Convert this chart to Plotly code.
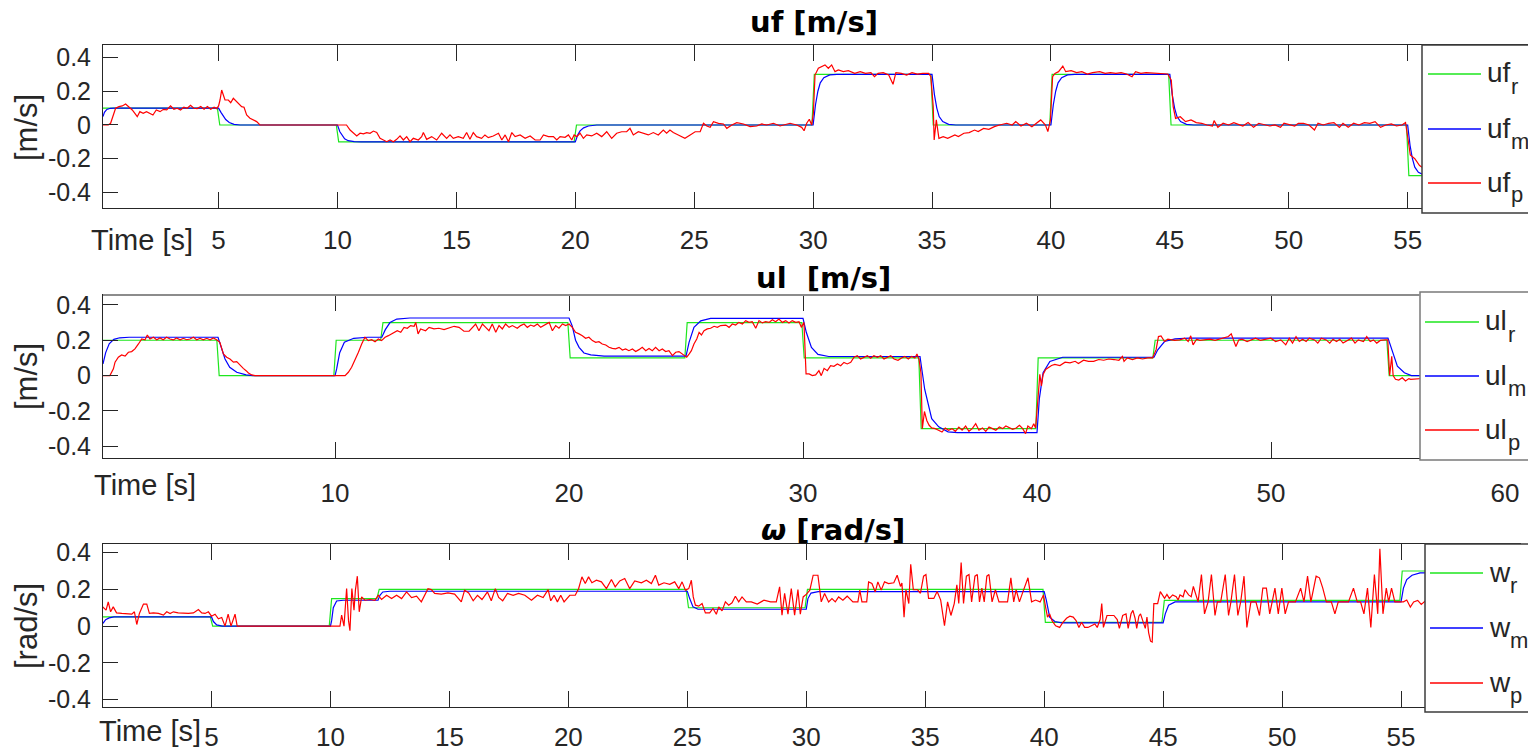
import plotly.graph_objects as go

# ---------------- uf panel (forward velocity) ----------------
uf_ref = [(0.14, 0.1), (4.95, 0.1), (5.05, 0.0), (9.95, 0.0), (10.05, -0.1), (19.95, -0.1),
          (20.05, 0.0), (29.95, 0.0), (30.05, 0.3), (34.95, 0.3), (35.05, 0.0), (39.95, 0.0),
          (40.05, 0.3), (44.95, 0.3), (45.05, 0.0), (54.95, 0.0), (55.05, -0.3), (60.0, -0.3)]

uf_mod = [(0.14, 0.05), (0.2, 0.075), (0.3, 0.092), (0.45, 0.099), (0.6, 0.1),
          (5.0, 0.1), (5.1, 0.075), (5.2, 0.05), (5.3, 0.032), (5.45, 0.015), (5.65, 0.004), (5.9, 0.0),
          (10.0, 0.0), (10.1, -0.04), (10.2, -0.065), (10.3, -0.082), (10.45, -0.093), (10.7, -0.099), (11.0, -0.1),
          (20.0, -0.1), (20.1, -0.06), (20.2, -0.035), (20.35, -0.017), (20.55, -0.006), (20.9, 0.0),
          (30.0, 0.0), (30.1, 0.12), (30.2, 0.2), (30.3, 0.25), (30.45, 0.28), (30.7, 0.297), (31.0, 0.3),
          (35.0, 0.3), (35.1, 0.18), (35.2, 0.1), (35.3, 0.05), (35.45, 0.02), (35.7, 0.004), (36.0, 0.0),
          (40.0, 0.0), (40.1, 0.12), (40.2, 0.2), (40.3, 0.25), (40.45, 0.28), (40.7, 0.297), (41.0, 0.3),
          (45.0, 0.3), (45.1, 0.18), (45.2, 0.1), (45.3, 0.05), (45.45, 0.02), (45.7, 0.004), (46.0, 0.0),
          (55.0, 0.0), (55.1, -0.12), (55.2, -0.2), (55.3, -0.25), (55.45, -0.28), (55.7, -0.297), (56.0, -0.3),
          (60.0, -0.3)]

uf_pos = [(0.12, 0.0), (0.36, 0.0), (0.46, 0.01), (0.57, 0.059), (0.67, 0.099), (0.81, 0.109), (0.95, 0.113),
          (1.09, 0.124), (1.23, 0.109), (1.37, 0.089), (1.48, 0.069), (1.58, 0.049), (1.69, 0.079), (1.83, 0.069),
          (1.97, 0.079), (2.1, 0.069), (2.24, 0.059), (2.38, 0.089), (2.54, 0.079), (2.68, 0.093), (2.82, 0.089),
          (2.98, 0.113), (3.12, 0.093), (3.26, 0.099), (3.4, 0.089), (3.54, 0.105), (3.68, 0.099), (3.82, 0.117),
          (3.96, 0.099), (4.1, 0.097), (4.25, 0.109), (4.39, 0.093), (4.53, 0.109), (4.67, 0.093), (4.81, 0.105),
          (4.92, 0.097), (5.0, 0.113), (5.06, 0.148), (5.13, 0.207), (5.2, 0.178), (5.27, 0.148), (5.41, 0.148),
          (5.51, 0.132), (5.62, 0.158), (5.76, 0.138), (5.87, 0.124), (5.97, 0.109), (6.07, 0.105), (6.18, 0.059),
          (6.32, 0.04), (6.46, 0.03), (6.6, 0.02), (6.74, 0.0), (10.38, 0.0), (10.53, -0.03), (10.67, -0.049),
          (10.81, -0.065), (10.95, -0.049), (11.09, -0.053), (11.23, -0.045), (11.37, -0.049), (11.51, -0.036),
          (11.65, -0.045), (11.79, -0.079), (11.93, -0.089), (12.07, -0.099), (12.21, -0.089), (12.35, -0.099),
          (12.49, -0.085), (12.63, -0.065), (12.77, -0.089), (12.91, -0.069), (13.05, -0.099), (13.19, -0.079),
          (13.4, -0.089), (13.54, -0.069), (13.61, -0.045), (13.75, -0.085), (13.96, -0.069), (14.17, -0.089),
          (14.38, -0.049), (14.59, -0.079), (14.73, -0.059), (14.87, -0.079), (15.08, -0.069), (15.29, -0.079),
          (15.43, -0.045), (15.57, -0.085), (15.71, -0.045), (15.85, -0.069), (16.06, -0.079), (16.2, -0.059),
          (16.34, -0.075), (16.55, -0.065), (16.77, -0.049), (16.91, -0.089), (17.05, -0.059), (17.19, -0.099),
          (17.33, -0.045), (17.47, -0.069), (17.68, -0.059), (17.89, -0.079), (18.1, -0.065), (18.31, -0.089),
          (18.52, -0.089), (18.66, -0.059), (18.87, -0.069), (19.08, -0.069), (19.22, -0.089), (19.36, -0.069),
          (19.57, -0.073), (19.71, -0.059), (19.85, -0.089), (19.95, -0.059), (20.06, -0.069), (20.2, -0.049),
          (20.34, -0.079), (20.48, -0.059), (20.69, -0.065), (20.9, -0.049), (21.11, -0.069), (21.32, -0.04),
          (21.53, -0.079), (21.74, -0.049), (21.95, -0.04), (22.16, -0.04), (22.3, -0.02), (22.44, -0.059),
          (22.65, -0.04), (22.86, -0.049), (23.07, -0.059), (23.28, -0.045), (23.49, -0.059), (23.7, -0.03),
          (23.84, -0.049), (23.98, -0.03), (24.12, -0.045), (24.33, -0.059), (24.61, -0.079), (24.83, -0.059),
          (25.04, -0.04), (25.25, -0.04), (25.39, 0.01), (25.53, -0.006), (25.67, -0.014), (25.81, 0.02),
          (26.02, 0.01), (26.23, 0.006), (26.37, -0.02), (26.58, 0.0), (26.79, 0.014), (27.07, 0.006),
          (27.35, -0.01), (27.63, -0.006), (27.84, 0.006), (28.05, 0.0), (28.33, 0.01), (28.61, -0.006),
          (28.82, 0.0), (29.03, 0.01), (29.31, 0.0), (29.52, -0.014), (29.62, -0.034), (29.73, 0.01),
          (29.84, 0.034), (29.94, 0.0), (30.01, 0.069), (30.08, 0.296), (30.22, 0.336), (30.36, 0.346),
          (30.5, 0.356), (30.64, 0.336), (30.78, 0.356), (30.92, 0.316), (31.06, 0.326), (31.27, 0.316),
          (31.48, 0.322), (31.75, 0.306), (31.98, 0.316), (32.2, 0.306), (32.43, 0.31), (32.58, 0.286),
          (32.73, 0.306), (32.95, 0.31), (33.18, 0.296), (33.36, 0.241), (33.48, 0.31), (33.71, 0.306),
          (33.93, 0.296), (34.16, 0.31), (34.38, 0.302), (34.61, 0.306), (34.86, 0.306), (34.95, 0.286),
          (35.05, 0.109), (35.09, -0.089), (35.18, 0.03), (35.29, -0.079), (35.47, -0.069), (35.66, -0.079),
          (35.81, -0.069), (35.96, -0.059), (36.11, -0.069), (36.34, -0.049), (36.56, -0.045), (36.79, -0.03),
          (36.94, -0.039), (37.17, -0.02), (37.39, -0.026), (37.62, -0.01), (37.84, 0.0), (38.14, 0.01),
          (38.37, 0.0), (38.52, 0.02), (38.74, -0.006), (38.97, 0.01), (39.2, -0.01), (39.42, 0.014),
          (39.57, 0.03), (39.77, 0.0), (39.87, -0.039), (39.98, 0.03), (40.07, 0.286), (40.17, 0.306),
          (40.32, 0.316), (40.5, 0.349), (40.62, 0.316), (40.85, 0.322), (41.08, 0.31), (41.3, 0.316),
          (41.53, 0.302), (41.75, 0.31), (42.05, 0.316), (42.28, 0.306), (42.5, 0.31), (42.73, 0.306),
          (42.95, 0.31), (43.18, 0.302), (43.41, 0.286), (43.56, 0.316), (43.78, 0.306), (44.0, 0.31),
          (44.31, 0.306), (44.61, 0.306), (44.91, 0.302), (45.06, 0.266), (45.14, 0.109), (45.24, 0.039),
          (45.44, 0.049), (45.66, 0.02), (45.89, 0.03), (46.11, 0.014), (46.34, 0.01), (46.56, 0.0),
          (46.79, -0.006), (46.86, 0.026), (47.02, -0.014), (47.24, 0.01), (47.47, 0.0), (47.69, 0.014),
          (47.92, 0.0), (48.07, -0.006), (48.29, 0.014), (48.52, -0.014), (48.74, 0.01), (48.97, 0.0),
          (49.2, -0.006), (49.42, 0.0), (49.65, -0.014), (49.8, 0.01), (50.02, 0.0), (50.25, -0.006),
          (50.4, 0.01), (50.62, 0.01), (50.85, 0.0), (51.08, -0.03), (51.23, 0.01), (51.45, 0.0),
          (51.68, 0.01), (51.9, 0.014), (52.13, -0.014), (52.28, 0.01), (52.5, -0.014), (52.73, 0.01),
          (52.95, 0.0), (53.18, 0.014), (53.41, 0.01), (53.63, 0.02), (53.86, -0.014), (54.08, 0.0),
          (54.31, 0.006), (54.53, -0.006), (54.76, 0.0), (54.91, 0.014), (55.02, -0.089), (55.11, -0.178),
          (55.3, -0.2), (55.5, -0.24), (55.7, -0.26), (56.0, -0.28), (56.4, -0.29)]

# ---------------- ul panel (lateral velocity) ----------------
ul_ref = [(0.085, 0.2), (4.95, 0.2), (5.05, 0.0), (9.95, 0.0), (10.05, 0.2), (11.95, 0.2), (12.05, 0.3),
          (19.95, 0.3), (20.05, 0.1), (24.95, 0.1), (25.05, 0.3), (29.95, 0.3), (30.05, 0.1), (34.95, 0.1),
          (35.05, -0.3), (39.95, -0.3), (40.05, 0.1), (44.95, 0.1), (45.05, 0.2), (54.95, 0.2), (55.05, 0.0),
          (60.0, 0.0)]

ul_mod = [(0.085, 0.066), (0.2, 0.13), (0.35, 0.18), (0.55, 0.205), (0.8, 0.214), (1.2, 0.217),
          (5.0, 0.217), (5.15, 0.16), (5.3, 0.094), (5.5, 0.047), (5.8, 0.019), (6.2, 0.004), (6.5, 0.0),
          (10.0, 0.0), (10.07, 0.038), (10.2, 0.13), (10.4, 0.189), (10.8, 0.211), (11.4, 0.217),
          (12.0, 0.217), (12.15, 0.26), (12.35, 0.3), (12.64, 0.32), (13.2, 0.326),
          (20.0, 0.326), (20.14, 0.28), (20.28, 0.2), (20.43, 0.16), (20.64, 0.128), (20.93, 0.117), (21.5, 0.11),
          (25.0, 0.11), (25.13, 0.188), (25.34, 0.273), (25.63, 0.31), (26.05, 0.324),
          (30.0, 0.324), (30.14, 0.245), (30.36, 0.16), (30.64, 0.12), (31.1, 0.108),
          (35.0, 0.108), (35.2, -0.077), (35.5, -0.244), (35.8, -0.29), (36.2, -0.318), (36.6, -0.323),
          (40.0, -0.323), (40.1, -0.13), (40.26, 0.016), (40.55, 0.08), (41.1, 0.104),
          (45.0, 0.104), (45.16, 0.146), (45.45, 0.193), (45.9, 0.208), (46.5, 0.212),
          (55.0, 0.212), (55.17, 0.146), (55.4, 0.053), (55.7, 0.016), (56.0, 0.0), (60.0, 0.0)]

ul_pos = [(0.07, 0.0), (0.38, 0.0), (0.53, 0.038), (0.6, 0.076), (0.74, 0.104), (0.88, 0.117), (1.03, 0.11),
          (1.17, 0.132), (1.31, 0.136), (1.45, 0.151), (1.6, 0.179), (1.74, 0.207), (1.88, 0.203), (1.98, 0.23),
          (2.09, 0.207), (2.24, 0.217), (2.38, 0.203), (2.52, 0.213), (2.66, 0.203), (2.8, 0.217), (2.95, 0.207),
          (3.09, 0.202), (3.23, 0.213), (3.38, 0.203), (3.52, 0.211), (3.66, 0.203), (3.8, 0.207), (3.95, 0.217),
          (4.09, 0.203), (4.23, 0.211), (4.37, 0.202), (4.52, 0.211), (4.66, 0.203), (4.8, 0.213), (4.94, 0.203),
          (5.08, 0.188), (5.23, 0.123), (5.37, 0.104), (5.51, 0.094), (5.66, 0.076), (5.8, 0.079), (5.94, 0.057),
          (6.08, 0.041), (6.2, 0.028), (6.3, 0.015), (6.44, 0.004), (6.58, 0.0), (10.43, 0.0), (10.57, 0.019),
          (10.71, 0.047), (10.85, 0.085), (11.0, 0.132), (11.14, 0.179), (11.28, 0.217), (11.42, 0.198),
          (11.57, 0.203), (11.71, 0.192), (11.85, 0.207), (11.99, 0.198), (12.14, 0.217), (12.28, 0.226),
          (12.42, 0.236), (12.56, 0.245), (12.66, 0.254), (12.81, 0.245), (12.95, 0.273), (13.09, 0.268),
          (13.23, 0.283), (13.38, 0.279), (13.45, 0.301), (13.55, 0.236), (13.66, 0.264), (13.87, 0.254),
          (14.02, 0.273), (14.23, 0.264), (14.44, 0.268), (14.66, 0.26), (14.87, 0.268), (15.09, 0.279),
          (15.3, 0.273), (15.51, 0.251), (15.73, 0.251), (15.87, 0.273), (16.01, 0.292), (16.15, 0.254),
          (16.3, 0.292), (16.44, 0.273), (16.58, 0.254), (16.72, 0.292), (16.87, 0.245), (17.01, 0.283),
          (17.15, 0.264), (17.29, 0.292), (17.44, 0.273), (17.58, 0.283), (17.79, 0.268), (17.93, 0.283),
          (18.08, 0.292), (18.22, 0.273), (18.36, 0.286), (18.5, 0.279), (18.65, 0.292), (18.79, 0.273),
          (18.93, 0.283), (19.15, 0.301), (19.29, 0.254), (19.43, 0.283), (19.57, 0.268), (19.72, 0.292),
          (19.86, 0.283), (20.0, 0.292), (20.14, 0.273), (20.28, 0.245), (20.43, 0.236), (20.57, 0.226),
          (20.71, 0.211), (20.85, 0.217), (21.0, 0.198), (21.14, 0.188), (21.28, 0.192), (21.42, 0.179),
          (21.57, 0.173), (21.71, 0.16), (21.85, 0.154), (21.99, 0.151), (22.14, 0.16), (22.28, 0.145),
          (22.42, 0.151), (22.56, 0.141), (22.71, 0.151), (22.85, 0.136), (22.99, 0.147), (23.13, 0.16),
          (23.28, 0.141), (23.42, 0.154), (23.56, 0.141), (23.7, 0.16), (23.85, 0.141), (23.99, 0.151),
          (24.13, 0.136), (24.27, 0.141), (24.42, 0.113), (24.56, 0.132), (24.7, 0.136), (24.84, 0.122),
          (24.94, 0.117), (25.03, 0.104), (25.13, 0.122), (25.23, 0.141), (25.34, 0.179), (25.46, 0.207),
          (25.56, 0.245), (25.66, 0.23), (25.77, 0.254), (25.91, 0.264), (26.05, 0.268), (26.2, 0.279),
          (26.34, 0.273), (26.48, 0.283), (26.7, 0.286), (26.84, 0.273), (26.98, 0.292), (27.12, 0.286),
          (27.26, 0.301), (27.41, 0.292), (27.55, 0.311), (27.69, 0.301), (27.83, 0.305), (27.98, 0.268),
          (28.12, 0.311), (28.26, 0.298), (28.4, 0.305), (28.55, 0.301), (28.69, 0.316), (28.83, 0.305),
          (28.97, 0.32), (29.12, 0.301), (29.26, 0.311), (29.4, 0.298), (29.54, 0.311), (29.69, 0.301),
          (29.83, 0.305), (29.93, 0.273), (30.04, 0.301), (30.13, 0.01), (30.26, 0.01), (30.4, 0.0),
          (30.54, 0.004), (30.68, 0.028), (30.78, 0.0), (30.9, 0.041), (31.04, 0.028), (31.18, 0.056),
          (31.32, 0.053), (31.47, 0.066), (31.61, 0.056), (31.75, 0.075), (31.89, 0.066), (32.04, 0.075),
          (32.18, 0.104), (32.32, 0.113), (32.46, 0.094), (32.61, 0.104), (32.75, 0.113), (32.89, 0.098),
          (33.03, 0.113), (33.18, 0.104), (33.32, 0.113), (33.46, 0.094), (33.6, 0.104), (33.75, 0.113),
          (33.89, 0.094), (34.06, 0.087), (34.21, 0.1), (34.35, 0.109), (34.5, 0.094), (34.64, 0.109),
          (34.78, 0.1), (34.87, 0.122), (34.96, 0.091), (35.04, 0.016), (35.1, -0.3), (35.19, -0.203),
          (35.29, -0.254), (35.39, -0.281), (35.5, -0.296), (35.65, -0.3), (35.79, -0.309), (35.94, -0.319),
          (36.08, -0.296), (36.22, -0.309), (36.37, -0.3), (36.51, -0.315), (36.66, -0.291), (36.8, -0.309),
          (36.95, -0.285), (37.09, -0.315), (37.23, -0.3), (37.38, -0.272), (37.52, -0.309), (37.67, -0.296),
          (37.81, -0.315), (37.95, -0.291), (38.1, -0.3), (38.24, -0.309), (38.39, -0.291), (38.53, -0.3),
          (38.67, -0.285), (38.82, -0.296), (38.96, -0.304), (39.11, -0.296), (39.25, -0.281), (39.39, -0.3),
          (39.51, -0.328), (39.61, -0.285), (39.76, -0.3), (39.86, -0.272), (39.94, -0.296), (40.04, -0.133),
          (40.12, 0.007), (40.19, -0.058), (40.26, 0.007), (40.37, 0.035), (40.48, 0.044), (40.62, 0.057),
          (40.76, 0.063), (40.98, 0.057), (41.2, 0.076), (41.41, 0.072), (41.63, 0.081), (41.77, 0.068),
          (41.99, 0.087), (42.2, 0.081), (42.42, 0.081), (42.64, 0.091), (42.85, 0.087), (43.07, 0.094),
          (43.29, 0.091), (43.5, 0.087), (43.65, 0.109), (43.72, 0.081), (43.86, 0.1), (44.08, 0.091),
          (44.29, 0.1), (44.51, 0.094), (44.73, 0.1), (44.94, 0.1), (45.09, 0.147), (45.19, 0.221),
          (45.3, 0.225), (45.45, 0.193), (45.59, 0.206), (45.73, 0.202), (45.88, 0.199), (46.1, 0.202),
          (46.31, 0.212), (46.46, 0.193), (46.57, 0.225), (46.67, 0.174), (46.82, 0.206), (46.96, 0.199),
          (47.18, 0.202), (47.39, 0.206), (47.61, 0.199), (47.82, 0.206), (48.04, 0.212), (48.18, 0.221),
          (48.3, 0.236), (48.4, 0.202), (48.5, 0.165), (48.62, 0.202), (48.76, 0.206), (48.98, 0.193),
          (49.19, 0.202), (49.34, 0.212), (49.55, 0.199), (49.77, 0.206), (49.99, 0.212), (50.2, 0.193),
          (50.42, 0.202), (50.63, 0.174), (50.78, 0.212), (50.92, 0.184), (51.07, 0.221), (51.21, 0.193),
          (51.35, 0.206), (51.5, 0.193), (51.64, 0.212), (51.86, 0.202), (52.0, 0.184), (52.15, 0.212),
          (52.36, 0.202), (52.51, 0.184), (52.65, 0.206), (52.8, 0.193), (52.94, 0.206), (53.08, 0.184),
          (53.3, 0.202), (53.44, 0.212), (53.59, 0.184), (53.73, 0.202), (53.95, 0.193), (54.09, 0.221),
          (54.24, 0.193), (54.38, 0.202), (54.52, 0.184), (54.67, 0.199), (54.88, 0.202), (54.99, 0.202),
          (55.07, 0.001), (55.16, 0.109), (55.22, 0.001), (55.32, -0.021), (55.46, -0.025), (55.61, -0.012),
          (55.75, -0.03), (55.89, -0.017), (55.97, -0.021), (56.3, -0.02), (56.6, -0.015)]

# ---------------- w panel (angular velocity) ----------------
w_ref = [(0.44, 0.05), (4.95, 0.05), (5.05, 0.0), (9.95, 0.0), (10.05, 0.15), (11.95, 0.15), (12.05, 0.2),
         (24.95, 0.2), (25.05, 0.1), (29.95, 0.1), (30.05, 0.2), (39.95, 0.2), (40.05, 0.02), (44.95, 0.02),
         (45.05, 0.14), (54.95, 0.14), (55.05, 0.3), (60.0, 0.3)]

w_mod = [(0.44, 0.015), (0.55, 0.035), (0.7, 0.045), (0.9, 0.05),
         (5.0, 0.05), (5.08, 0.025), (5.22, 0.007), (5.45, 0.0),
         (10.0, 0.0), (10.05, 0.03), (10.12, 0.1), (10.26, 0.137), (10.54, 0.141),
         (12.0, 0.141), (12.08, 0.168), (12.2, 0.186), (12.5, 0.19),
         (25.0, 0.19), (25.1, 0.15), (25.24, 0.105), (25.45, 0.092),
         (30.0, 0.092), (30.07, 0.15), (30.2, 0.18), (30.5, 0.188),
         (40.0, 0.188), (40.09, 0.142), (40.23, 0.049), (40.45, 0.025), (40.73, 0.018),
         (45.0, 0.018), (45.09, 0.067), (45.23, 0.114), (45.5, 0.132),
         (55.0, 0.132), (55.1, 0.207), (55.24, 0.253), (55.46, 0.277), (55.8, 0.29), (60.0, 0.29)]

w_pos = [(0.43, 0.105), (0.57, 0.087), (0.66, 0.132), (0.76, 0.078), (0.87, 0.105), (1.01, 0.072),
         (1.23, 0.069), (1.44, 0.069), (1.65, 0.065), (1.76, 0.078), (1.86, 0.009), (1.97, 0.069),
         (2.14, 0.12), (2.28, 0.12), (2.39, 0.069), (2.56, 0.072), (2.77, 0.069), (2.98, 0.06),
         (3.12, 0.078), (3.26, 0.069), (3.4, 0.078), (3.6, 0.072), (3.82, 0.069), (4.03, 0.069),
         (4.24, 0.072), (4.45, 0.09), (4.59, 0.072), (4.73, 0.069), (4.87, 0.078), (5.0, 0.054),
         (5.15, 0.065), (5.29, 0.04), (5.43, 0.047), (5.57, 0.0), (5.7, 0.065), (5.82, 0.0),
         (5.99, 0.065), (6.08, 0.0), (10.4, 0.0), (10.47, 0.06), (10.57, 0.0), (10.68, 0.205),
         (10.76, 0.03), (10.82, -0.025), (10.9, 0.205), (10.99, 0.087), (11.05, 0.196), (11.13, 0.272),
         (11.21, 0.078), (11.31, 0.159), (11.45, 0.141), (11.66, 0.145), (11.87, 0.141), (12.01, 0.168),
         (12.15, 0.145), (12.36, 0.168), (12.57, 0.15), (12.78, 0.168), (12.99, 0.15), (13.2, 0.186),
         (13.41, 0.155), (13.62, 0.163), (13.82, 0.132), (14.1, 0.204), (14.24, 0.199), (14.38, 0.178),
         (14.66, 0.174), (14.94, 0.181), (15.22, 0.174), (15.5, 0.132), (15.64, 0.196), (15.81, 0.181),
         (16.0, 0.138), (16.18, 0.168), (16.37, 0.145), (16.6, 0.186), (16.76, 0.138), (16.93, 0.204),
         (17.07, 0.156), (17.24, 0.138), (17.44, 0.178), (17.68, 0.168), (17.91, 0.178), (18.17, 0.168),
         (18.45, 0.141), (18.7, 0.168), (18.94, 0.156), (19.15, 0.199), (19.26, 0.138), (19.4, 0.168),
         (19.54, 0.132), (19.68, 0.168), (19.82, 0.132), (20.06, 0.168), (20.29, 0.168), (20.43, 0.204),
         (20.57, 0.268), (20.71, 0.232), (20.85, 0.268), (20.99, 0.236), (21.18, 0.25), (21.39, 0.241),
         (21.6, 0.204), (21.81, 0.254), (21.97, 0.214), (22.16, 0.246), (22.37, 0.259), (22.58, 0.204),
         (22.79, 0.246), (23.07, 0.236), (23.28, 0.25), (23.49, 0.232), (23.66, 0.277), (23.8, 0.223),
         (24.02, 0.236), (24.26, 0.228), (24.47, 0.241), (24.64, 0.204), (24.78, 0.241), (24.92, 0.196),
         (25.06, 0.204), (25.17, 0.25), (25.25, 0.159), (25.34, 0.114), (25.48, 0.109), (25.62, 0.123),
         (25.76, 0.072), (25.94, 0.072), (26.08, 0.096), (26.22, 0.065), (26.32, 0.105), (26.46, 0.083),
         (26.6, 0.132), (26.74, 0.114), (26.88, 0.127), (27.02, 0.163), (27.16, 0.132), (27.3, 0.159),
         (27.48, 0.132), (27.69, 0.132), (27.94, 0.12), (28.22, 0.141), (28.5, 0.132), (28.74, 0.132),
         (28.88, 0.214), (28.98, 0.06), (29.09, 0.178), (29.23, 0.065), (29.37, 0.204), (29.51, 0.06),
         (29.65, 0.199), (29.75, 0.065), (29.87, 0.159), (30.01, 0.174), (30.15, 0.196), (30.29, 0.277),
         (30.49, 0.277), (30.63, 0.132), (30.77, 0.178), (30.94, 0.132), (31.08, 0.15), (31.22, 0.132),
         (31.36, 0.159), (31.54, 0.141), (31.72, 0.163), (31.96, 0.132), (32.17, 0.132), (32.25, 0.196),
         (32.34, 0.132), (32.54, 0.132), (32.62, 0.241), (32.76, 0.232), (32.9, 0.186), (33.01, 0.241),
         (33.15, 0.196), (33.29, 0.241), (33.46, 0.232), (33.68, 0.236), (33.82, 0.277), (33.96, 0.216),
         (34.02, 0.235), (34.11, 0.049), (34.19, 0.198), (34.31, 0.123), (34.39, 0.337), (34.5, 0.198),
         (34.68, 0.198), (34.8, 0.179), (34.93, 0.272), (35.03, 0.281), (35.14, 0.151), (35.36, 0.151),
         (35.5, 0.188), (35.65, 0.142), (35.81, 0.002), (35.94, 0.132), (36.08, 0.058), (36.22, 0.123),
         (36.33, 0.225), (36.41, 0.123), (36.51, 0.346), (36.61, 0.123), (36.73, 0.272), (36.84, 0.281),
         (36.95, 0.132), (37.09, 0.272), (37.19, 0.281), (37.28, 0.132), (37.38, 0.207), (37.48, 0.132),
         (37.59, 0.272), (37.68, 0.281), (37.81, 0.132), (37.95, 0.198), (38.1, 0.132), (38.31, 0.132),
         (38.46, 0.132), (38.6, 0.263), (38.72, 0.132), (38.82, 0.198), (38.96, 0.132), (39.11, 0.188),
         (39.32, 0.263), (39.47, 0.132), (39.64, 0.142), (39.83, 0.132), (39.97, 0.17), (40.06, 0.104),
         (40.14, 0.049), (40.23, 0.067), (40.33, 0.03), (40.48, 0.002), (40.65, -0.007), (40.79, 0.021),
         (40.94, 0.043), (41.08, 0.054), (41.22, 0.049), (41.34, 0.03), (41.46, -0.007), (41.57, 0.021),
         (41.7, -0.007), (41.84, -0.007), (41.99, 0.002), (42.13, 0.012), (42.23, -0.007), (42.35, 0.036),
         (42.42, 0.123), (42.49, -0.007), (42.64, 0.058), (42.93, 0.058), (43.07, 0.036), (43.16, -0.012),
         (43.3, 0.058), (43.44, 0.067), (43.53, -0.012), (43.65, 0.067), (43.73, 0.086), (43.82, 0.043),
         (43.89, -0.012), (43.98, 0.054), (44.05, 0.067), (44.16, 0.025), (44.25, -0.012), (44.32, 0.049),
         (44.39, -0.035), (44.47, -0.082), (44.54, -0.087), (44.61, 0.123), (44.77, 0.123), (44.88, 0.188),
         (44.97, 0.17), (45.06, 0.151), (45.16, 0.173), (45.26, 0.151), (45.4, 0.17), (45.55, 0.16),
         (45.63, 0.142), (45.71, 0.17), (45.84, 0.16), (45.92, 0.198), (46.07, 0.17), (46.18, 0.16),
         (46.27, 0.216), (46.35, 0.179), (46.47, 0.132), (46.61, 0.281), (46.74, 0.067), (46.89, 0.132),
         (47.03, 0.281), (47.18, 0.058), (47.28, 0.132), (47.42, 0.132), (47.61, 0.281), (47.75, 0.058),
         (47.85, 0.132), (48.0, 0.281), (48.14, 0.058), (48.26, 0.132), (48.4, 0.272), (48.52, -0.007),
         (48.69, 0.132), (48.9, 0.132), (49.05, 0.058), (49.19, 0.207), (49.34, 0.207), (49.48, 0.067),
         (49.7, 0.207), (49.84, 0.067), (49.99, 0.207), (50.13, 0.067), (50.27, 0.132), (50.56, 0.132),
         (50.78, 0.207), (50.92, 0.132), (51.07, 0.272), (51.21, 0.132), (51.43, 0.272), (51.57, 0.263),
         (51.71, 0.207), (51.86, 0.132), (52.07, 0.132), (52.22, 0.067), (52.36, 0.132), (52.58, 0.132),
         (52.79, 0.132), (53.0, 0.207), (53.16, 0.132), (53.3, 0.132), (53.44, 0.067), (53.59, 0.207),
         (53.73, -0.007), (53.88, 0.281), (53.96, 0.132), (54.02, 0.067), (54.11, 0.421), (54.24, 0.067),
         (54.38, 0.207), (54.48, 0.132), (54.6, 0.207), (54.74, 0.132), (54.88, 0.132), (55.1, 0.132),
         (55.24, 0.142), (55.39, 0.104), (55.53, 0.132), (55.7, 0.14), (55.85, 0.118), (56.0, 0.135),
         (56.3, 0.13)]

# tick values / labels
y_ticks = [-0.4, -0.2, 0, 0.2, 0.4]
y_ticktext = ["-0.4", "-0.2", "0", "0.2", "0.4"]
x_ticks_5 = [5, 10, 15, 20, 25, 30, 35, 40, 45, 50, 55]
x_ticks_10 = [10, 20, 30, 40, 50, 60]

W, H = 1528, 752
FONT = "Liberation Sans, Arial, sans-serif"
TITLE_FONT = "DejaVu Sans, Liberation Sans, sans-serif"
INK = "#262626"
GREEN, BLUE, RED = "#1ee61e", "#0000ff", "#ff0000"


def px(x):
    return x / W


def py(y):
    return 1 - y / H


panels = [
    dict(name="uf", ref=uf_ref, mod=uf_mod, pos=uf_pos, xdom=[px(103), 1.0], xrange=[0.14, 60.06],
         ydom=[py(208), py(45)], yrange=[-0.492, 0.474], xticks=x_ticks_5, standoff=9,
         box=dict(x0=1422, y0=45, y1=213, lines=[74, 129, 183], lx=(1428, 1481), tx=1485, sub_dx=24,
                  color="#3c3c3c")),
    dict(name="ul", ref=ul_ref, mod=ul_mod, pos=ul_pos, xdom=[px(103), px(1505)], xrange=[0.085, 60.0],
         ydom=[py(458), py(295)], yrange=[-0.466, 0.456], xticks=x_ticks_10, standoff=12,
         box=dict(x0=1420, y0=292, y1=460, lines=[322, 376, 430], lx=(1425, 1479), tx=1483, sub_dx=23,
                  color="#7a7a7a")),
    dict(name="w", ref=w_ref, mod=w_mod, pos=w_pos, xdom=[px(103), px(1520)], xrange=[0.44, 60.0],
         ydom=[py(707), py(544)], yrange=[-0.44, 0.447], xticks=x_ticks_5, standoff=7,
         box=dict(x0=1425, y0=544, y1=712, lines=[573, 628, 683], lx=(1430, 1483), tx=1487, sub_dx=21,
                  color="#3c3c3c")),
]

fig = go.Figure()
layout = dict(width=W, height=H, paper_bgcolor="white", plot_bgcolor="white", showlegend=False,
              margin=dict(l=0, r=0, t=0, b=0, autoexpand=False),
              font=dict(family=FONT, color=INK), annotations=[], shapes=[])

for i, p in enumerate(panels, start=1):
    sfx = "" if i == 1 else str(i)
    series = (("ref", GREEN, "r"), ("mod", BLUE, "m"), ("pos", RED, "p"))
    for key, color, sub in series:
        t, v = zip(*p[key])
        fig.add_trace(go.Scatter(
            x=t, y=v, mode="lines", line=dict(color=color, width=1.2),
            name=f"{p['name']}<sub>{sub}</sub>", xaxis="x" + sfx, yaxis="y" + sfx, hoverinfo="skip"))
    layout["xaxis" + sfx] = dict(
        domain=p["xdom"], range=p["xrange"], anchor="y" + sfx, tickvals=p["xticks"],
        ticks="inside", ticklen=16, tickwidth=1, tickcolor=INK, showline=True, linecolor=INK,
        linewidth=1, mirror="ticks", showgrid=False, zeroline=False,
        tickfont=dict(size=26, color=INK, family=FONT), ticklabelstandoff=p["standoff"])
    layout["yaxis" + sfx] = dict(
        domain=p["ydom"], range=p["yrange"], anchor="x" + sfx, tickvals=y_ticks, ticktext=y_ticktext,
        ticks="inside", ticklen=15, tickwidth=1, tickcolor=INK, showline=True, linecolor=INK,
        linewidth=1, mirror="ticks", showgrid=False, zeroline=False,
        tickfont=dict(size=25, color=INK, family=FONT), ticklabelstandoff=6)

    # key box drawn at the right edge of each panel
    b = p["box"]
    layout["shapes"].append(dict(type="rect", xref="paper", yref="paper", layer="above",
                                 x0=px(b["x0"]), x1=px(1600), y0=py(b["y1"]), y1=py(b["y0"]),
                                 fillcolor="white", line=dict(color=b["color"], width=1.5)))
    for (key, color, sub), ly in zip(series, b["lines"]):
        layout["shapes"].append(dict(type="line", xref="paper", yref="paper", layer="above",
                                     x0=px(b["lx"][0]), x1=px(b["lx"][1]), y0=py(ly), y1=py(ly),
                                     line=dict(color=color, width=1.5)))
        # series name, then its subscript set lower and slightly smaller
        layout["annotations"].append(dict(text=p["name"], x=px(b["tx"]), y=py(ly - 1),
                                          xref="paper", yref="paper", showarrow=False,
                                          xanchor="left", yanchor="middle",
                                          font=dict(size=28, color=INK, family=FONT)))
        layout["annotations"].append(dict(text=sub, x=px(b["tx"] + b["sub_dx"]), y=py(ly + 12),
                                          xref="paper", yref="paper", showarrow=False,
                                          xanchor="left", yanchor="middle",
                                          font=dict(size=22, color=INK, family=FONT)))

# lighter top frame of the middle panel
layout["shapes"].append(dict(type="line", xref="paper", yref="paper", layer="above",
                             x0=px(103), x1=px(1420), y0=py(295), y1=py(295),
                             line=dict(color="#8c8c8c", width=2)))

# panel titles
titles = [("<b>uf [m/s]</b>", 814, 22), ("<b>ul\u00a0 [m/s]</b>", 824, 278),
          ("<b><i>ω</i> [rad/s]</b>", 833, 530)]
for text, x, y in titles:
    layout["annotations"].append(dict(text=text, x=px(x), y=py(y), xref="paper", yref="paper",
                                      showarrow=False, xanchor="center", yanchor="middle",
                                      font=dict(size=29, color="black", family=TITLE_FONT)))

# vertical axis labels
for text, y in (("[m/s]", 128), ("[m/s]", 377), ("[rad/s]", 626)):
    layout["annotations"].append(dict(text=text, x=px(26), y=py(y), xref="paper", yref="paper",
                                      showarrow=False, textangle=-90, xanchor="center", yanchor="middle",
                                      font=dict(size=31, color=INK, family=FONT)))

# time labels on the horizontal axes
for x, y in (142, 240), (145, 485), (150, 731):
    layout["annotations"].append(dict(text="Time [s]", x=px(x), y=py(y), xref="paper", yref="paper",
                                      showarrow=False, xanchor="center", yanchor="middle",
                                      font=dict(size=29, color=INK, family=FONT)))

fig.update_layout(**layout)
fig.write_html("out.html")
